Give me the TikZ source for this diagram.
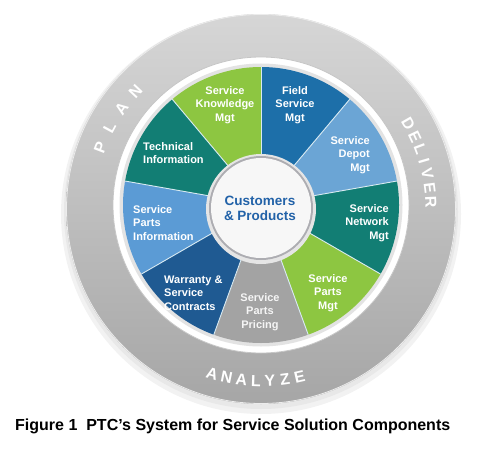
\documentclass[tikz,border=0pt]{standalone}
\usepackage{fontspec}
\newfontfamily\arial{Liberation Sans}
\definecolor{lgreen}{HTML}{8DC641}
\definecolor{fblue}{HTML}{1D6FA9}
\definecolor{dblue}{HTML}{6BA5D5}
\definecolor{pblue}{HTML}{5B9BD5}
\definecolor{teal2}{HTML}{127E74}
\definecolor{wblue}{HTML}{1F5A92}
\definecolor{pgray}{HTML}{A3A3A3}
\definecolor{ctext}{HTML}{2262A8}
\definecolor{ringtop}{HTML}{D6D6D6}
\definecolor{ringbot}{HTML}{A6A6A6}
\definecolor{sep}{HTML}{D8EAF2}
\tikzset{
  seglabel/.style={text=white, font=\arial\bfseries\fontsize{11}{13.3}\selectfont, inner sep=0pt},
  ringletter/.style={text=white, font=\arial\bfseries\fontsize{16}{16}\selectfont, inner sep=0pt},
  sector/.style={draw=sep, line width=0.9pt}
}
\begin{document}
\begin{tikzpicture}[x=1pt,y=1pt]
\useasboundingbox (0,0) rectangle (478,448);
\coordinate (RC) at (261,239);
\coordinate (PC) at (261,243);
% soft shadow
\fill[gray!10] (261,234) circle[radius=200pt];
\fill[gray!18] (261,236) circle[radius=197pt];
% ring
\shade[top color=ringtop, bottom color=ringbot, even odd rule]
  (RC) circle[radius=195pt] (PC) circle[radius=148pt];
\draw[white!85!gray, line width=0.8pt] (RC) circle[radius=194.5pt];
% white band
\fill[white] (PC) circle[radius=148pt];
\draw[gray!45, line width=0.8pt] (PC) circle[radius=148pt];
\fill[gray!22] (PC) circle[radius=141.5pt];
% sectors
\foreach \a/\b/\c in {90/50/fblue, 50/10/dblue, 10/-30/teal2, -30/-70/lgreen,
  -70/-110/pgray, -110/-150/wblue, -150/-190/pblue, 170/130/teal2, 130/90/lgreen}{
  \fill[\c] (PC) -- ([shift={(\a:138pt)}]PC) arc[start angle=\a, end angle=\b, radius=138pt] -- cycle;
}
\foreach \a in {90,50,10,-30,-70,-110,-150,170,130}{
  \draw[sep, line width=0.9pt] (PC) -- ([shift={(\a:138pt)}]PC);
}
% center circle
\fill[gray!20] (261,239) circle[radius=55pt];
\fill[white!95!blue!40!gray] (261,240) circle[radius=52pt];
\fill[white!94!gray] (261,240) circle[radius=50pt];
\node[font=\arial\bfseries\fontsize{13.5}{15}\selectfont, text=ctext, align=center, inner sep=0pt] (cp) at (260,240) {Customers\\\& Products};
% segment labels
\node[seglabel, align=center] (skm) at (225,343) {Service\\Knowledge\\Mgt};
\node[seglabel, align=center] (fsm) at (295,343) {Field\\Service\\Mgt};
\node[seglabel, align=right, anchor=east] (sdm) at (370,293) {Service\\Depot\\Mgt};
\node[seglabel, align=right, anchor=east] (snm) at (389,225) {Service\\Network\\Mgt};
\node[seglabel, align=center] (spm) at (328,155) {Service\\Parts\\Mgt};
\node[seglabel, align=center, text=white!92!gray] (spp) at (260,136) {Service\\Parts\\Pricing};
\node[seglabel, align=left, anchor=west] (wsc) at (164,155) {Warranty \&\\Service\\Contracts};
\node[seglabel, align=left, anchor=west] (spi) at (133,225) {Service\\Parts\\Information};
\node[seglabel, align=left, anchor=west] (ti) at (143,295) {Technical\\Information};
% ring words
\foreach \l/\a [count=\i] in {P/159,L/151.6,A/144.2,N/136.8}{
  \node[ringletter, rotate=\a-90] (plan\i) at ([shift={(\a:172pt)}]RC) {\l};
}
\foreach \l/\a [count=\i] in {D/30,E/25.2,L/20.6,I/16.4,V/12,E/7.2,R/2.4}{
  \node[ringletter, rotate=\a-90] (deliver\i) at ([shift={(\a:170pt)}]RC) {\l};
}
\foreach \l/\a [count=\i] in {A/253.5,N/258.5,A/263.5,L/268.3,Y/273,Z/278,E/283}{
  \node[ringletter, rotate=\a+90] (analyze\i) at ([shift={(\a:172pt)}]RC) {\l};
}
% caption
\node[font=\arial\bfseries\fontsize{16}{18}\selectfont, anchor=base west, inner sep=0pt] (cap) at (15,18) {Figure 1\ \ PTC’s System for Service Solution Components};
\end{tikzpicture}
\end{document}
